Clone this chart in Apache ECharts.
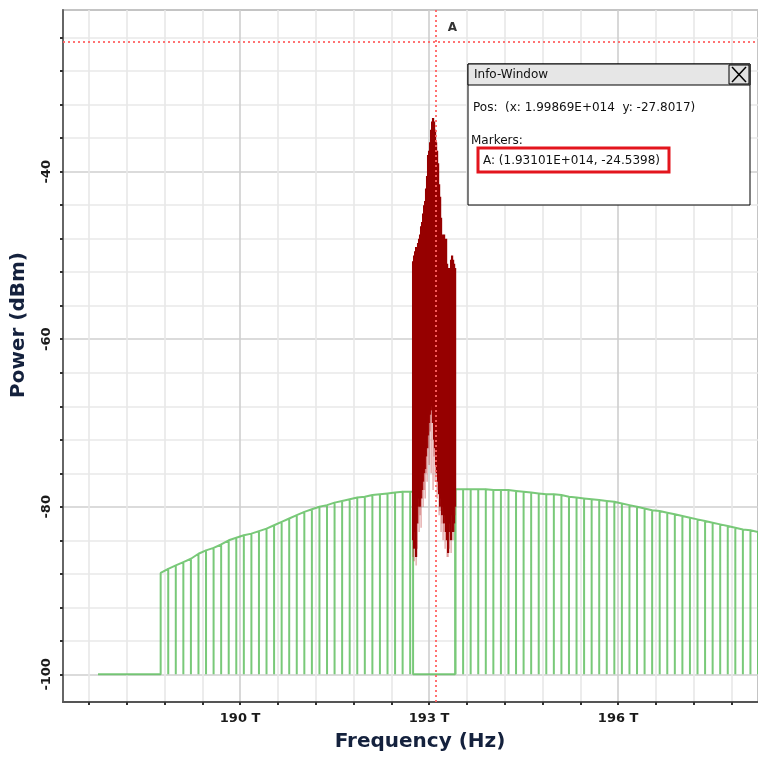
<!DOCTYPE html>
<html><head><meta charset="utf-8">
<script src="https://cdn.jsdelivr.net/npm/echarts@6.0.0/dist/echarts.min.js"></script>
<style>html,body{margin:0;padding:0;background:#fff}#c{width:758px;height:757px}</style>
</head><body><div id="c"></div>
<script>
// ---- axis ticks / labels ----
const xTicks = [187.6,188.2,188.8,189.4,190.0,190.6,191.2,191.8,192.4,193.0,193.6,194.2,194.8,195.4,196.0,196.6,197.2,197.8];
const xLabels = [190, 193, 196];
const yTicks = [-100,-96,-92,-88,-84,-80,-76,-72,-68,-64,-60,-56,-52,-48,-44,-40,-36,-32,-28,-24];
const yLabels = [-100, -80, -60, -40];

// ---- green WDM comb (frequency THz, peak dBm) ----
const floorLevel = -100;
const floorStart = 187.746;
const gapStart = 192.746;
const gapEnd = 193.413;
const chanFreq = [188.74,188.86,188.98,189.10,189.22,189.34,189.46,189.58,189.70,189.82,189.94,190.06,190.18,190.30,190.42,190.54,190.66,190.78,190.90,191.02,191.14,191.26,191.38,191.50,191.62,191.74,191.86,191.98,192.10,192.22,192.34,192.46,192.58,192.70,
  193.42,193.54,193.66,193.78,193.90,194.02,194.14,194.26,194.38,194.50,194.62,194.74,194.86,194.98,195.10,195.22,195.34,195.46,195.58,195.70,195.82,195.94,196.06,196.18,196.30,196.42,196.54,196.66,196.78,196.90,197.02,197.14,197.26,197.38,197.50,197.62,197.74,197.86,197.98,198.10,198.22,198.34];
const chanTop = [-87.9,-87.4,-87.0,-86.6,-86.2,-85.6,-85.2,-84.9,-84.5,-84.0,-83.7,-83.4,-83.2,-82.9,-82.6,-82.2,-81.8,-81.4,-81.0,-80.6,-80.3,-80.0,-79.8,-79.5,-79.3,-79.1,-78.9,-78.8,-78.6,-78.5,-78.4,-78.3,-78.2,-78.2,
  -77.9,-77.9,-77.9,-77.9,-77.9,-78.0,-78.0,-78.0,-78.1,-78.2,-78.3,-78.4,-78.5,-78.5,-78.6,-78.8,-78.9,-79.0,-79.1,-79.2,-79.3,-79.4,-79.6,-79.8,-80.0,-80.2,-80.4,-80.5,-80.7,-80.9,-81.1,-81.3,-81.5,-81.7,-81.9,-82.1,-82.3,-82.5,-82.7,-82.8,-83.0,-83.2];

// ---- red signal spectrum: frequency, upper, lower (dense), spike ----
const redFreq = [192.746,192.762,192.778,192.794,192.810,192.825,192.841,192.857,192.873,192.889,192.905,192.921,192.937,192.952,192.968,192.984,193.000,193.016,193.032,193.048,193.063,193.079,193.095,193.111,193.127,193.143,193.159,193.175,193.190,193.206,193.222,193.238,193.254,193.270,193.286,193.302,193.317,193.333,193.349,193.365,193.381,193.397,193.413];
const redHigh = [-50.7,-50.0,-49.5,-49.0,-49.0,-48.5,-48.0,-47.5,-46.5,-46.0,-45.0,-44.0,-43.5,-42.0,-40.5,-38.0,-37.5,-36.5,-35.0,-34.0,-33.6,-34.0,-35.0,-36.5,-37.5,-39.0,-41.5,-43.0,-45.5,-47.5,-48.5,-47.5,-48.5,-48.0,-51.0,-52.0,-51.5,-52.5,-50.5,-50.0,-50.5,-51.0,-51.5];
const redLow = [-84,-85,-83,-86,-82,-80,-79,-80,-79,-78,-77,-76,-75.5,-74,-73,-71.5,-70,-69,-68.5,-68,-70,-72,-73,-75,-76,-77,-78.5,-80,-79,-81,-80,-82,-81,-83,-84,-85.5,-83,-82,-84,-81,-83,-82,-80];
const redSpike = [-86,-86.5,-84,-87,-85,-82,-83,-81,-82.5,-79,-80,-78,-79,-76,-77,-73,-75,-71,-76,-70,-78,-74,-77,-76,-79,-78,-81,-80.5,-83,-82,-84,-83,-85,-84,-86,-86,-85,-84,-85.5,-83,-84,-83,-81];

// ---- marker A ----
const markerA = [193.101, -24.5398];

// build green polyline from the channel arrays
const greenPts = [[floorStart, floorLevel]];
for (let i = 0; i < chanFreq.length; i++) {
  const f = chanFreq[i], t = chanTop[i];
  if (i === 0) { greenPts.push([f, floorLevel], [f, t]); continue; }
  if (chanFreq[i-1] < gapStart && f > gapEnd) {
    greenPts.push([gapStart, chanTop[i-1]], [gapStart, floorLevel], [gapEnd, floorLevel], [gapEnd, t]);
  }
  greenPts.push([f, t], [f, floorLevel], [f, t]);
}
const redData = redFreq.map((f, i) => [f, redHigh[i], redLow[i], redSpike[i]]);
const redStep = redFreq[1] - redFreq[0];

const MAJ = '#cfcfcf', MIN = '#e8e8e8';
const FONT = 'DejaVu Sans';
const chart = echarts.init(document.getElementById('c'));
chart.setOption({
  animation: false,
  backgroundColor: '#ffffff',
  grid: { left: 63, top: 10, right: -2, bottom: 54, show: true, borderColor: '#c4c4c4', borderWidth: 2, backgroundColor: 'transparent' },
  xAxis: {
    type: 'value', min: 187.19, max: 198.22,
    name: 'Frequency (Hz)', nameLocation: 'middle', nameGap: 30,
    nameTextStyle: { fontFamily: FONT, fontWeight: 'bold', fontSize: 20, color: '#14213d', padding: [0, 0, 0, 19] },
    axisLine: { show: true, onZero: false, lineStyle: { color: '#555', width: 2 } },
    axisTick: { show: true, customValues: xTicks, length: 3, lineStyle: { color: '#333', width: 2 } },
    axisLabel: { customValues: xLabels, formatter: v => v + ' T', margin: 10, fontFamily: FONT, fontWeight: 'bold', fontSize: 13, color: '#1a1a1a' },
    splitLine: { show: true, lineStyle: { color: [MIN, MIN, MIN, MIN, MAJ], width: 1.6 } }
  },
  yAxis: {
    type: 'value', min: -103.3, max: -20.7,
    name: 'Power (dBm)', nameLocation: 'middle', nameGap: 34, nameRotate: 90,
    nameTextStyle: { fontFamily: FONT, fontWeight: 'bold', fontSize: 20, color: '#14213d', padding: [0, 0, 0, 62] },
    axisLine: { show: true, onZero: false, lineStyle: { color: '#666', width: 2 } },
    axisTick: { show: true, customValues: yTicks, length: 3, lineStyle: { color: '#333', width: 2 } },
    axisLabel: { customValues: yLabels, rotate: 90, margin: 10, fontFamily: FONT, fontWeight: 'bold', fontSize: 13, color: '#1a1a1a' },
    splitLine: { show: true, lineStyle: { color: [MAJ, MIN, MIN, MIN, MIN], width: 1.6 } }
  },
  series: [
    {
      type: 'line', data: greenPts, showSymbol: false, symbol: 'none', clip: true, z: 2,
      lineStyle: { color: '#62c062', width: 2, opacity: 0.85 }
    },
    {
      type: 'custom', data: redData, z: 3, clip: true,
      encode: { x: 0, y: [1, 2, 3] },
      renderItem: function (params, api) {
        const f = api.value(0), hi = api.value(1), lo = api.value(2), sp = api.value(3);
        const p1 = api.coord([f, hi]), p2 = api.coord([f, lo]), p3 = api.coord([f, sp]);
        const w = api.size([redStep, 0])[0];
        const ch = [{ type: 'rect', shape: { x: p1[0] - w / 2 - 0.6, y: p1[1], width: w + 1.2, height: p2[1] - p1[1] }, style: { fill: '#960000' } }];
        if (sp < lo) ch.push({ type: 'rect', shape: { x: p2[0] - 0.5, y: p2[1], width: 1, height: p3[1] - p2[1] }, style: { fill: 'rgba(185,40,40,0.55)' } });
        return { type: 'group', children: ch };
      }
    },
    {
      type: 'line', data: [], z: 5, silent: true,
      markLine: {
        silent: true, symbol: 'none', animation: false,
        label: { show: false },
        lineStyle: { color: '#ff6464', width: 2, type: [2, 3], opacity: 0.9 },
        data: [{ xAxis: markerA[0] }, { yAxis: markerA[1] }]
      },
      markPoint: {
        silent: true, symbol: 'circle', symbolSize: 0, animation: false,
        data: [{ coord: markerA }],
        label: { show: true, formatter: 'A', offset: [17, -14], fontFamily: FONT, fontWeight: 'bold', fontSize: 12, color: '#333' }
      }
    }
  ],
  graphic: [
    { type: 'rect', z: 100, shape: { x: 468, y: 64, width: 282, height: 141 }, style: { fill: '#ffffff', stroke: '#000', lineWidth: 1 } },
    { type: 'rect', z: 101, shape: { x: 468, y: 64, width: 282, height: 21 }, style: { fill: '#e6e6e6', stroke: '#000', lineWidth: 1 } },
    { type: 'rect', z: 102, shape: { x: 729, y: 65, width: 20, height: 19 }, style: { fill: '#e0e0e0', stroke: '#000', lineWidth: 1 } },
    { type: 'polyline', z: 103, shape: { points: [[732, 67], [746, 82]] }, style: { stroke: '#000', lineWidth: 1.5 } },
    { type: 'polyline', z: 103, shape: { points: [[746, 67], [732, 82]] }, style: { stroke: '#000', lineWidth: 1.5 } },
    { type: 'text', z: 103, x: 474, y: 75, style: { text: 'Info-Window', fontFamily: FONT, fontSize: 12, fill: '#111', verticalAlign: 'middle' } },
    { type: 'text', z: 103, x: 473, y: 108, style: { text: 'Pos:  (x: 1.99869E+014  y: -27.8017)', fontFamily: FONT, fontSize: 12, fill: '#111', verticalAlign: 'middle' } },
    { type: 'text', z: 103, x: 471, y: 141, style: { text: 'Markers:', fontFamily: FONT, fontSize: 12, fill: '#111', verticalAlign: 'middle' } },
    { type: 'rect', z: 103, shape: { x: 478, y: 148, width: 191, height: 24 }, style: { fill: 'none', stroke: '#e3151d', lineWidth: 3 } },
    { type: 'text', z: 104, x: 483, y: 161, style: { text: 'A: (1.93101E+014, -24.5398)', fontFamily: FONT, fontSize: 12, fill: '#111', verticalAlign: 'middle' } }
  ]
});
</script></body></html>
